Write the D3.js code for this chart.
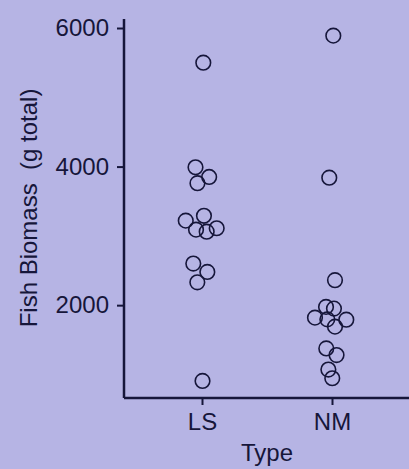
<!DOCTYPE html>
<html>
<head>
<meta charset="utf-8">
<script src="https://cdn.jsdelivr.net/npm/d3@7"></script>
<style>
  html, body { margin: 0; padding: 0; background: #b6b4e4; }
  svg { display: block; }
  text { font-family: "Liberation Sans", Arial, sans-serif; fill: #16163a; }
</style>
</head>
<body>
<div id="chart"></div>
<script>
// Fish biomass per site, grouped by habitat type
const categories = ["LS", "NM"];
const lsBiomass = [5500, 3990, 3850, 3760, 3290, 3220, 3110, 3090, 3060, 2600, 2480, 2330, 906];
const nmBiomass = [5890, 3840, 2360, 1975, 1950, 1820, 1795, 1790, 1690, 1375, 1280, 1070, 945];
// horizontal jitter of each point, as a fraction of the category spacing
const lsJitter = [0.01, -0.05, 0.055, -0.035, 0.015, -0.125, 0.113, -0.046, 0.036, -0.067, 0.041, -0.036, 0.004];
const nmJitter = [0.01, -0.021, 0.023, -0.046, 0.015, -0.131, -0.036, 0.11, 0.023, -0.044, 0.035, -0.028, 0.002];
const yTicks = [2000, 4000, 6000];
const xTitle = "Type";
const yTitle = "Fish Biomass  (g total)";

const W = 409, H = 469;
const ink = "#16163a";
const fontSize = 24;

const svg = d3.select("#chart").append("svg")
  .attr("width", W).attr("height", H);

svg.append("rect").attr("width", W).attr("height", H).attr("fill", "#b6b4e4");

const x = d3.scalePoint().domain(categories).range([124, 410]).padding(0.6);
const y = d3.scaleLinear().domain([660, 6130]).range([398, 19]);

const series = [
  { cat: "LS", values: lsBiomass, jitter: lsJitter },
  { cat: "NM", values: nmBiomass, jitter: nmJitter }
];
const points = series.flatMap(s => s.values.map((v, i) => ({ cat: s.cat, v, j: s.jitter[i] })));

// y axis
const yAxis = svg.append("g").attr("transform", "translate(124,0)")
  .call(d3.axisLeft(y).tickValues(yTicks).tickSize(7).tickPadding(8).tickFormat(d3.format("d")));
yAxis.select(".domain").attr("d", `M0,${y.range()[1]}V${y.range()[0]}`)
  .attr("stroke", ink).attr("stroke-width", 2.5);
yAxis.selectAll(".tick line").attr("stroke", ink).attr("stroke-width", 2);
yAxis.selectAll(".tick text").attr("font-size", fontSize).style("fill", ink)
  .attr("font-family", "'Liberation Sans', Arial, sans-serif");

// x axis
const xAxis = svg.append("g").attr("transform", "translate(0,398)")
  .call(d3.axisBottom(x).tickSize(7).tickPadding(8));
xAxis.select(".domain").attr("d", `M124,0H${W}`)
  .attr("stroke", ink).attr("stroke-width", 2.5);
xAxis.selectAll(".tick line").attr("stroke", ink).attr("stroke-width", 2);
xAxis.selectAll(".tick text").attr("font-size", fontSize).style("fill", ink)
  .attr("font-family", "'Liberation Sans', Arial, sans-serif");

// axis titles
svg.append("text").attr("x", 267).attr("y", 461).attr("text-anchor", "middle")
  .attr("font-size", fontSize).text(xTitle);
svg.append("text")
  .attr("transform", `translate(37,208) rotate(-90)`)
  .attr("text-anchor", "middle").attr("font-size", fontSize)
  .attr("xml:space", "preserve").style("white-space", "pre")
  .text(yTitle);

// points
const step = x.step();
svg.append("g").selectAll("circle").data(points).join("circle")
  .attr("cx", d => x(d.cat) + d.j * step)
  .attr("cy", d => y(d.v))
  .attr("r", 7.3)
  .attr("fill", "none")
  .attr("stroke", ink)
  .attr("stroke-width", 1.6);
</script>
</body>
</html>
